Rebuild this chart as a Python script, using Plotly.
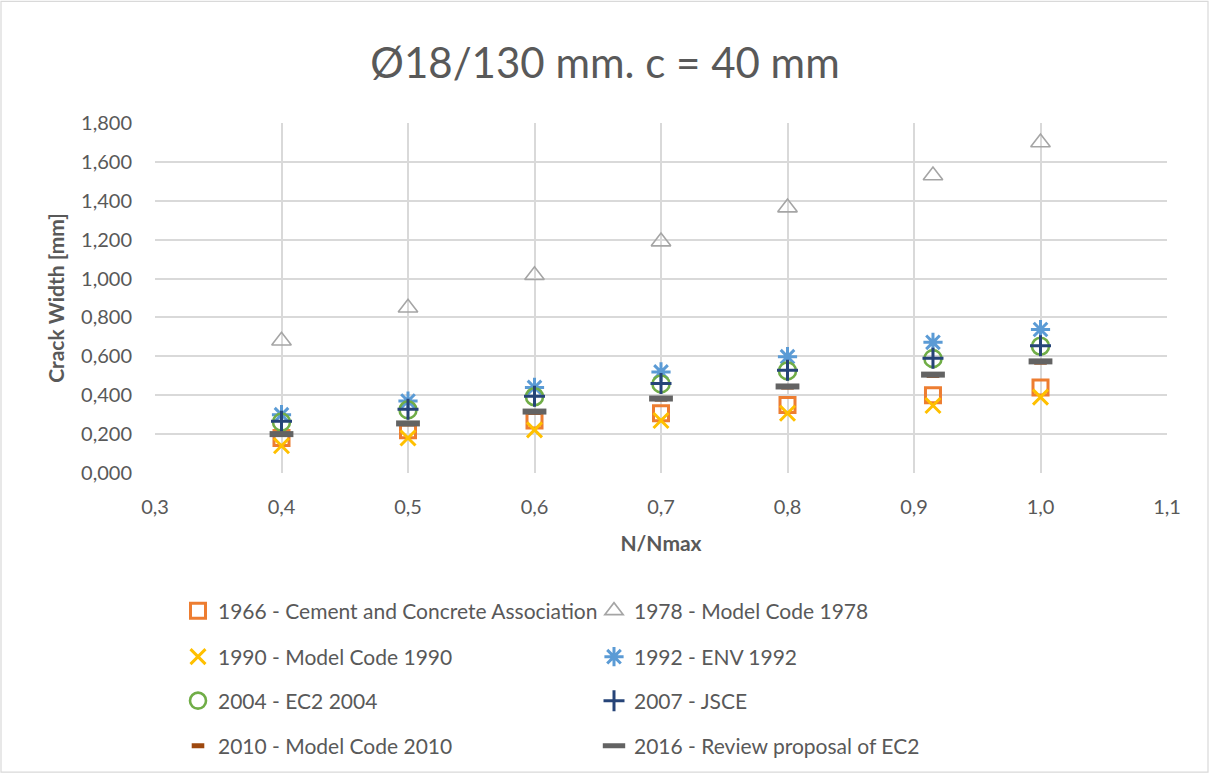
import plotly.graph_objects as go

# Load ratio N/Nmax
n_ratio = [0.4, 0.5, 0.6, 0.7, 0.8, 0.915, 1.0]

# Crack width [mm] per design code
w_1966 = [0.180, 0.220, 0.270, 0.307, 0.350, 0.400, 0.440]
w_1978 = [0.680, 0.850, 1.017, 1.190, 1.365, 1.530, 1.700]
w_1990 = [0.140, 0.180, 0.222, 0.270, 0.307, 0.347, 0.390]
w_1992 = [0.300, 0.370, 0.440, 0.520, 0.598, 0.672, 0.738]
w_2004 = [0.262, 0.325, 0.392, 0.458, 0.525, 0.588, 0.652]
w_2007 = [0.266, 0.328, 0.395, 0.460, 0.528, 0.590, 0.655]
w_2010 = [0.198, 0.252, 0.312, 0.380, 0.442, 0.502, 0.570]
w_2016 = [0.200, 0.255, 0.316, 0.383, 0.445, 0.506, 0.574]

names = [
    "1966 - Cement and Concrete Association",
    "1978 - Model Code 1978",
    "1990 - Model Code 1990",
    "1992 - ENV 1992",
    "2004 - EC2 2004",
    "2007 - JSCE",
    "2010 - Model Code 2010",
    "2016 - Review proposal of EC2",
]
series = [w_1966, w_1978, w_1990, w_1992, w_2004, w_2007, w_2010, w_2016]

styles = [
    dict(symbol="square-open", size=15, color="#ED7D31", line=dict(width=3, color="#ED7D31")),
    dict(symbol="triangle-up-open", size=17, color="#A5A5A5", line=dict(width=1.6, color="#A5A5A5")),
    dict(symbol="x-thin-open", size=15, color="#FFC000", line=dict(width=3, color="#FFC000")),
    dict(symbol="asterisk-open", size=16, color="#5B9BD5", line=dict(width=3, color="#5B9BD5")),
    dict(symbol="circle-open", size=17, color="#70AD47", line=dict(width=2.6, color="#70AD47")),
    dict(symbol="cross-thin-open", size=15, color="#264478", line=dict(width=3, color="#264478")),
    dict(symbol="line-ew-open", size=9, color="#9E480E", line=dict(width=5, color="#9E480E")),
    dict(symbol="line-ew-open", size=17, color="#636363", line=dict(width=6, color="#636363")),
]

legend_ids = ["legend", "legend", "legend2", "legend2", "legend3", "legend3", "legend4", "legend4"]

fig = go.Figure()
for name, vals, st, lg in zip(names, series, styles, legend_ids):
    fig.add_trace(go.Scatter(
        x=n_ratio, y=vals, mode="markers", name=name,
        marker=st, legend=lg, cliponaxis=False,
    ))

TXT = "#595959"
GRID = "#D9D9D9"
FONT = "Lato, 'Open Sans', sans-serif"

# plot area spans pixels x 155..1167, y 123..474 in a 1210x776 canvas
L, R, T, B = 155, 1167, 123, 474
PW, PH = R - L, B - T
def px_x(p):
    return (p - L) / PW
def px_y(p):
    return (B - p) / PH

legend_common = dict(
    orientation="h", xanchor="left", yanchor="middle",
    entrywidth=371, entrywidthmode="pixels", itemwidth=30,
    font=dict(family=FONT, size=21, color=TXT),
    bgcolor="rgba(0,0,0,0)", itemsizing="trace",
)
rows_y = [611, 657, 701, 746]
LEG_X = 178
fig.update_layout(
    width=1210, height=776,
    margin=dict(l=L, r=1210 - R, t=T, b=776 - B),
    paper_bgcolor="white", plot_bgcolor="white",
    separators=",.",
    title=dict(
        text="Ø18/130 mm. c = 40 mm",
        font=dict(family=FONT, size=42, color=TXT),
        x=0.5, xanchor="center", y=1 - 63 / 776, yanchor="middle",
    ),
    xaxis=dict(
        range=[0.3, 1.1], dtick=0.1, tick0=0.3, tickformat=".1f",
        showgrid=True, gridcolor=GRID, gridwidth=1.5, zeroline=False,
        showline=False, ticks="", ticklabelstandoff=20,
        tickfont=dict(family=FONT, size=20, color=TXT),
        title=dict(text="<b>N/Nmax</b>", font=dict(family=FONT, size=21, color=TXT), standoff=19),
    ),
    yaxis=dict(
        range=[0, 1.8], dtick=0.2, tickformat=".3f",
        showgrid=True, gridcolor=GRID, gridwidth=1.5, zeroline=False,
        showline=False, ticks="", ticklabelstandoff=22,
        tickfont=dict(family=FONT, size=20, color=TXT),
        title=dict(text="<b>Crack Width [mm]</b>", font=dict(family=FONT, size=21, color=TXT), standoff=10),
    ),
    legend=dict(legend_common, x=px_x(LEG_X), y=px_y(rows_y[0])),
    legend2=dict(legend_common, x=px_x(LEG_X), y=px_y(rows_y[1])),
    legend3=dict(legend_common, x=px_x(LEG_X), y=px_y(rows_y[2])),
    legend4=dict(legend_common, x=px_x(LEG_X), y=px_y(rows_y[3])),
    shapes=[dict(
        type="rect", xref="paper", yref="paper",
        x0=px_x(1), x1=px_x(1208), y0=px_y(774), y1=px_y(1),
        line=dict(color=GRID, width=1.2), fillcolor="rgba(0,0,0,0)", layer="below",
    )],
)

fig.write_html("out.html")
